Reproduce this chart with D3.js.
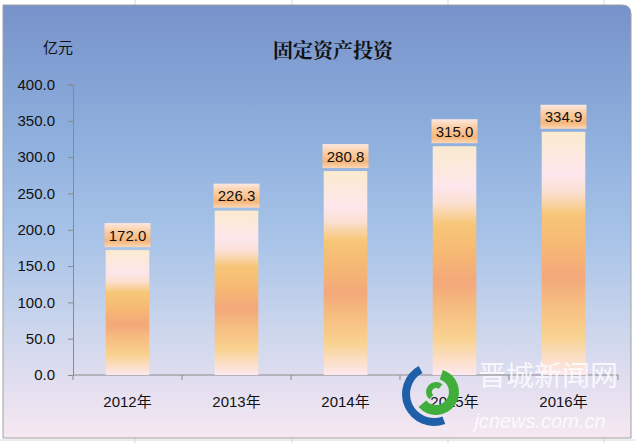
<!DOCTYPE html>
<html><head><meta charset="utf-8">
<script src="https://cdn.jsdelivr.net/npm/d3@7/dist/d3.min.js"></script>
<style>html,body{margin:0;padding:0;background:#fff;}svg{display:block;}</style>
</head><body>
<svg id="c" width="635" height="443"></svg>
<script>
const categories = ["2012年","2013年","2014年","2015年","2016年"];
const values = [172.0, 226.3, 280.8, 315.0, 334.9];
const yTicks = [0, 50, 100, 150, 200, 250, 300, 350, 400];
const title = "固定资产投资";
const unit = "亿元";

const svg = d3.select("#c");
const W = 635, H = 443;
const defs = svg.append("defs");

const bg = defs.append("linearGradient").attr("id","bg").attr("x1",0).attr("y1",0).attr("x2",0).attr("y2",1);
[[0,"#7792ca"],[0.3,"#8eafdd"],[0.55,"#a9c4e8"],[0.75,"#ccd6ec"],[0.9,"#e6e0f0"],[1,"#f6e8f1"]]
  .forEach(([o,c])=>bg.append("stop").attr("offset",o).attr("stop-color",c));

const bgr = defs.append("linearGradient").attr("id","bar").attr("x1",0).attr("y1",0).attr("x2",0).attr("y2",1);
[[0,"#fbebcf"],[0.18,"#fde6ec"],[0.25,"#fbe0d0"],[0.34,"#f7c678"],[0.47,"#f6b874"],[0.6,"#f3a87a"],[0.7,"#f6bc80"],[0.84,"#f9d290"],[1,"#fde8ee"]]
  .forEach(([o,c])=>bgr.append("stop").attr("offset",o).attr("stop-color",c));

const lg = defs.append("linearGradient").attr("id","lab").attr("x1",0).attr("y1",0).attr("x2",0).attr("y2",1);
[[0,"#fde8e2"],[0.3,"#fbd0a8"],[0.75,"#f7b67a"],[1,"#fbd8b8"]]
  .forEach(([o,c])=>lg.append("stop").attr("offset",o).attr("stop-color",c));

const gridX = [135, 292, 448, 604];
gridX.forEach(x=>svg.append("line").attr("x1",x).attr("x2",x).attr("y1",0).attr("y2",H).attr("stroke","#d8d8d8"));
svg.append("line").attr("x1",0).attr("x2",W).attr("y1",440).attr("y2",440).attr("stroke","#d8d8d8");

(()=>{const p=d3.path(); const x0=3,y0=5,x1=631,y1=438,r=9;
  p.moveTo(x0,y0); p.lineTo(x1-r,y0); p.quadraticCurveTo(x1,y0,x1,y0+r); p.lineTo(x1,y1); p.lineTo(x0,y1); p.closePath();
  svg.append("path").attr("d",p.toString()).attr("fill","url(#bg)").attr("stroke","#a0a0a0").attr("stroke-width",1);})();

const x = d3.scaleBand().domain(categories).range([73,618]).paddingInner(0.6).paddingOuter(0.3);
const y = d3.scaleLinear().domain([0,400]).range([375,84.5]);
const bandStep = x.step();

const yAxis = d3.axisLeft(y).tickValues(yTicks).tickFormat(d3.format(".1f")).tickSize(5).tickPadding(13);
const gy = svg.append("g").attr("transform","translate(73,0)").call(yAxis);
gy.select(".domain").attr("stroke","#8a8a8a");
gy.selectAll(".tick line").attr("stroke","#8a8a8a");
gy.selectAll("text").attr("font-family","Liberation Sans, Arial, sans-serif").attr("font-size",15).attr("fill","#111");

const gx = svg.append("g").attr("transform","translate(0,375)");
gx.append("line").attr("x1",73).attr("x2",618).attr("y1",0).attr("y2",0).attr("stroke","#8a8a8a");
d3.range(categories.length+1).forEach(i=>{
  const xx = 73 + i*bandStep;
  gx.append("line").attr("x1",xx).attr("x2",xx).attr("y1",0).attr("y2",5).attr("stroke","#8a8a8a");
});
gx.selectAll("text.cat").data(categories).enter().append("text")
  .attr("x",d=>x(d)+x.bandwidth()/2).attr("y",32)
  .attr("text-anchor","middle").attr("font-family","Liberation Sans, 'Noto Sans CJK SC', sans-serif")
  .attr("font-size",15).attr("fill","#111").text(d=>d);

const data = categories.map((c,i)=>({c, v: values[i]}));
svg.selectAll("rect.bar").data(data).enter().append("rect")
  .attr("x",d=>x(d.c)).attr("width",x.bandwidth())
  .attr("y",d=>y(d.v)).attr("height",d=>y(0)-y(d.v))
  .attr("fill","url(#bar)");

const lw = 46, lh = 24;
svg.selectAll("rect.lab").data(data).enter().append("rect")
  .attr("x",d=>x(d.c)+x.bandwidth()/2-lw/2).attr("y",d=>y(d.v)-3-lh)
  .attr("width",lw).attr("height",lh).attr("fill","url(#lab)");
svg.selectAll("text.lab").data(data).enter().append("text")
  .attr("x",d=>x(d.c)+x.bandwidth()/2).attr("y",d=>y(d.v)-3-lh/2+5.5)
  .attr("text-anchor","middle").attr("font-family","Liberation Sans, Arial, sans-serif")
  .attr("font-size",15).attr("fill","#111").text(d=>d3.format(".1f")(d.v));

svg.append("text").attr("x",333).attr("y",58).attr("text-anchor","middle")
  .attr("font-family","'Noto Serif CJK SC','Noto Sans CJK SC',sans-serif").attr("font-weight","bold")
  .attr("font-size",20).attr("fill","#111").text(title);
svg.append("text").attr("x",58).attr("y",53).attr("text-anchor","middle")
  .attr("font-family","'Noto Sans CJK SC',sans-serif")
  .attr("font-size",15).attr("fill","#111").text(unit);

// watermark
const wm = svg.append("g");
const arc = d3.arc();
wm.append("path").attr("transform","translate(434,394)")
  .attr("d", arc({innerRadius:24, outerRadius:32, startAngle:-0.5, endAngle:-3.5}))
  .attr("fill","#1f5fa8");
wm.append("path").attr("transform","translate(436,392)")
  .attr("d", arc({innerRadius:13, outerRadius:23, startAngle:0.3, endAngle:4.0}))
  .attr("fill","#3fae3a");
wm.append("path").attr("transform","translate(436,392)")
  .attr("d", arc({innerRadius:4, outerRadius:10, startAngle:-2.4, endAngle:0.7}))
  .attr("fill","#3fae3a");
wm.append("text").attr("x",548).attr("y",386).attr("text-anchor","middle")
  .attr("font-family","'Noto Sans CJK SC',sans-serif").attr("font-size",28)
  .attr("fill","#ffffff").attr("fill-opacity",0.8)
  .text("晋城新闻网");
wm.append("text").attr("x",540).attr("y",428).attr("text-anchor","middle")
  .attr("font-family","'Liberation Sans',sans-serif").attr("font-style","italic").attr("font-size",20)
  .attr("fill","#ffffff").attr("fill-opacity",0.8).text("jcnews.com.cn");
</script>
</body></html>
